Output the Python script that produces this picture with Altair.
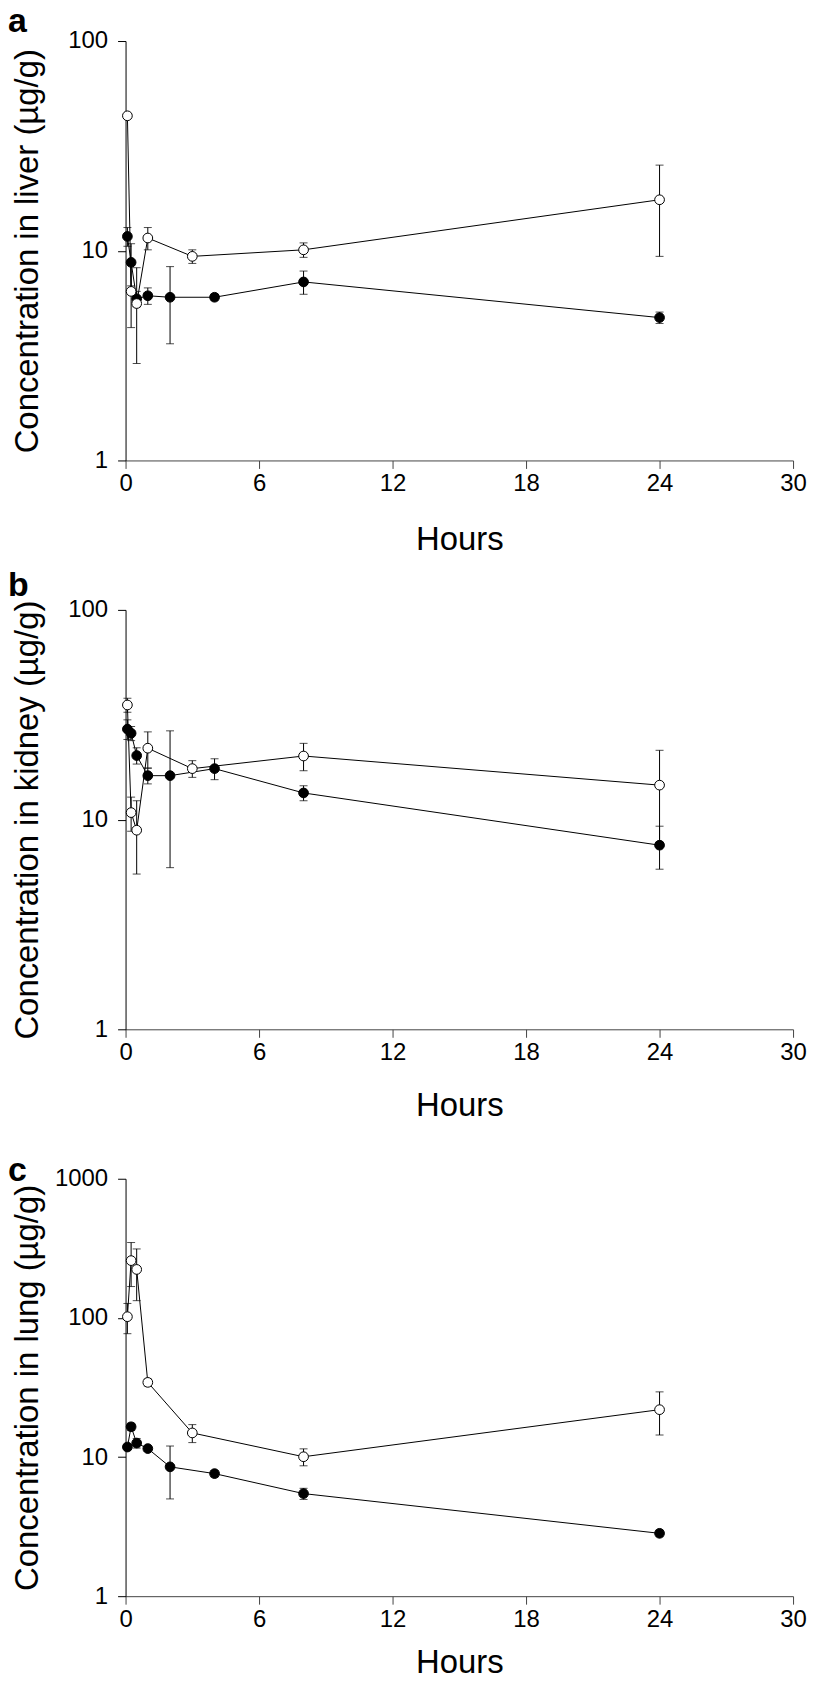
import altair as alt
import pandas as pd

# Sampling times (hours)
hours_open = [0.083, 0.25, 0.5, 1, 3, 8, 24]
hours_filled = [0.083, 0.25, 0.5, 1, 2, 4, 8, 24]

# Liver (µg/g): mean and SD
liver_open = [44, 6.4, 5.6, 11.5, 9.4, 10.1, 17.5]
liver_open_sd = [0, 2.1, 2.7, 1.4, 0.7, 0.8, 8.1]
liver_filled = [11.7, 8.8, 5.9, 6.1, 6.0, 6.0, 7.1, 4.8]
liver_filled_sd = [1.2, 2.0, 0.5, 0.55, 2.4, 0.2, 0.9, 0.3]

# Kidney (µg/g)
kidney_open = [35.2, 10.8, 8.9, 21.9, 17.5, 20.1, 14.6]
kidney_open_sd = [2.7, 2.0, 3.4, 4.3, 1.6, 3.0, 6.8]
kidney_filled = [27.0, 25.8, 20.2, 16.2, 16.2, 17.5, 13.4, 7.55]
kidney_filled_sd = [2.9, 2.0, 1.8, 1.4, 10.3, 2.0, 1.1, 1.75]

# Lung (µg/g)
lung_open = [102, 258, 223, 34.4, 14.9, 10.05, 21.9]
lung_open_sd = [25, 90, 90, 2.0, 2.2, 1.4, 7.5]
lung_filled = [11.8, 16.5, 12.6, 11.5, 8.5, 7.6, 5.46, 2.83]
lung_filled_sd = [0.5, 1.0, 1.0, 0.5, 3.5, 0.4, 0.5, 0.15]

x_ticks = [0, 6, 12, 18, 24, 30]
y_ticks_2 = [1, 10, 100]
y_ticks_3 = [1, 10, 100, 1000]

FONT = "Liberation Sans"


def make_df(ov, osd, fv, fsd):
    rows = []
    for t, v, e in zip(hours_filled, fv, fsd):
        rows.append(dict(t=t, v=v, lo=v - e, hi=v + e, grp="filled"))
    for t, v, e in zip(hours_open, ov, osd):
        rows.append(dict(t=t, v=v, lo=v - e, hi=v + e, grp="open"))
    return pd.DataFrame(rows)


def panel(df, ymax, yticks, ytitle, letter, letter_y, xtitle_pad, height):
    xs = alt.Scale(domain=[0, 30], nice=False, zero=False)
    ys = alt.Scale(type="log", domain=[1, ymax], nice=False)
    xaxis = alt.Axis(values=x_ticks, title="Hours", titlePadding=xtitle_pad,
                     domainColor="#444", tickColor="#444", labelPadding=3,
                     labelFlush=False)
    yaxis = alt.Axis(values=yticks, format="d", title=ytitle, titleX=-81,
                     labelPadding=10, labelFlush=False)

    def X():
        return alt.X("t:Q", scale=xs, axis=xaxis)

    def Y(f):
        return alt.Y(f + ":Q", scale=ys, axis=yaxis)

    base = alt.Chart(df)
    line = base.mark_line(color="black", strokeWidth=1).encode(
        x=X(), y=Y("v"), detail="grp:N")
    rule = base.mark_rule(color="black", strokeWidth=1).encode(
        x=X(), y=Y("lo"), y2="hi:Q")
    cap_lo = base.mark_tick(color="black", thickness=1, size=8,
                            orient="horizontal").encode(x=X(), y=Y("lo"))
    cap_hi = base.mark_tick(color="black", thickness=1, size=8,
                            orient="horizontal").encode(x=X(), y=Y("hi"))
    pts = base.mark_circle(size=95, stroke="black", strokeWidth=1,
                           opacity=1).encode(
        x=X(), y=Y("v"),
        fill=alt.Fill("grp:N",
                      scale=alt.Scale(domain=["filled", "open"],
                                      range=["black", "white"]),
                      legend=None))
    lab = alt.Chart(pd.DataFrame({"l": [letter]})).mark_text(
        align="left", baseline="middle", font=FONT, fontSize=34,
        fontWeight="bold", color="black").encode(
        x=alt.value(-118), y=alt.value(letter_y), text="l:N")
    return alt.layer(line, rule, cap_lo, cap_hi, pts, lab).properties(
        width=670, height=height)


pa = panel(make_df(liver_open, liver_open_sd, liver_filled, liver_filled_sd),
           100, y_ticks_2, "Concentration in liver (µg/g)", "a", -19, 28, 421)
pb = panel(make_df(kidney_open, kidney_open_sd, kidney_filled, kidney_filled_sd),
           100, y_ticks_2, "Concentration in kidney (µg/g)", "b", -24, 26, 421)
pc = panel(make_df(lung_open, lung_open_sd, lung_filled, lung_filled_sd),
           1000, y_ticks_3, "Concentration in lung (µg/g)", "c", -8, 16, 419)

chart = alt.vconcat(pa, pb, pc, spacing=150, bounds="flush").properties(
    padding={"left": 0, "top": -6, "right": 0, "bottom": 0}
).configure_axis(
    labelFont=FONT, titleFont=FONT, labelFontSize=24, titleFontSize=33,
    titleFontWeight="normal", labelColor="black", titleColor="black",
    grid=False, tickSize=8, domainColor="black", tickColor="black",
    domainWidth=1, tickWidth=1
).configure_view(stroke=None)

chart.save("out.html", embed_options={"renderer": "svg", "actions": False})
